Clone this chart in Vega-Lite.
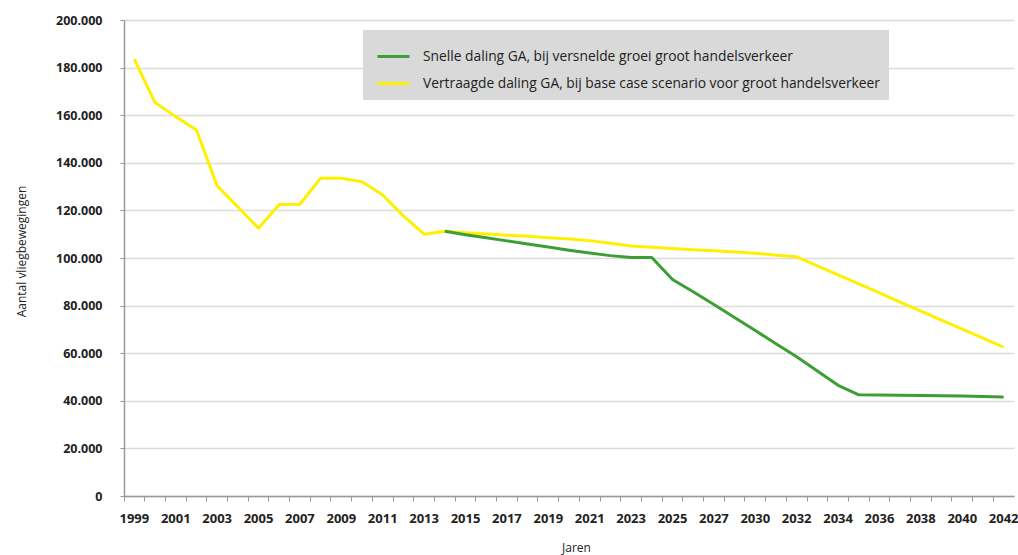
{
  "$schema": "https://vega.github.io/schema/vega-lite/v6.json",
  "width": 890,
  "height": 476,
  "autosize": {"type": "none"},
  "padding": {"left": 124, "top": 20, "right": 4, "bottom": 59},
  "background": "white",
  "config": {
    "view": {"stroke": null},
    "font": "Open Sans"
  },
  "data": {
    "values": [
      {"jaar": "1999", "scenario": "Vertraagde daling GA, bij base case scenario voor groot handelsverkeer", "waarde": 183500},
      {"jaar": "2000", "scenario": "Vertraagde daling GA, bij base case scenario voor groot handelsverkeer", "waarde": 165300},
      {"jaar": "2001", "scenario": "Vertraagde daling GA, bij base case scenario voor groot handelsverkeer", "waarde": 159400},
      {"jaar": "2002", "scenario": "Vertraagde daling GA, bij base case scenario voor groot handelsverkeer", "waarde": 153800},
      {"jaar": "2003", "scenario": "Vertraagde daling GA, bij base case scenario voor groot handelsverkeer", "waarde": 130300},
      {"jaar": "2004", "scenario": "Vertraagde daling GA, bij base case scenario voor groot handelsverkeer", "waarde": 121500},
      {"jaar": "2005", "scenario": "Vertraagde daling GA, bij base case scenario voor groot handelsverkeer", "waarde": 112500},
      {"jaar": "2006", "scenario": "Vertraagde daling GA, bij base case scenario voor groot handelsverkeer", "waarde": 122500},
      {"jaar": "2007", "scenario": "Vertraagde daling GA, bij base case scenario voor groot handelsverkeer", "waarde": 122600},
      {"jaar": "2008", "scenario": "Vertraagde daling GA, bij base case scenario voor groot handelsverkeer", "waarde": 133500},
      {"jaar": "2009", "scenario": "Vertraagde daling GA, bij base case scenario voor groot handelsverkeer", "waarde": 133500},
      {"jaar": "2010", "scenario": "Vertraagde daling GA, bij base case scenario voor groot handelsverkeer", "waarde": 132000},
      {"jaar": "2011", "scenario": "Vertraagde daling GA, bij base case scenario voor groot handelsverkeer", "waarde": 126500},
      {"jaar": "2012", "scenario": "Vertraagde daling GA, bij base case scenario voor groot handelsverkeer", "waarde": 117700},
      {"jaar": "2013", "scenario": "Vertraagde daling GA, bij base case scenario voor groot handelsverkeer", "waarde": 110000},
      {"jaar": "2014", "scenario": "Vertraagde daling GA, bij base case scenario voor groot handelsverkeer", "waarde": 111200},
      {"jaar": "2015", "scenario": "Vertraagde daling GA, bij base case scenario voor groot handelsverkeer", "waarde": 110600},
      {"jaar": "2016", "scenario": "Vertraagde daling GA, bij base case scenario voor groot handelsverkeer", "waarde": 110100},
      {"jaar": "2017", "scenario": "Vertraagde daling GA, bij base case scenario voor groot handelsverkeer", "waarde": 109600},
      {"jaar": "2018", "scenario": "Vertraagde daling GA, bij base case scenario voor groot handelsverkeer", "waarde": 109100},
      {"jaar": "2019", "scenario": "Vertraagde daling GA, bij base case scenario voor groot handelsverkeer", "waarde": 108500},
      {"jaar": "2020", "scenario": "Vertraagde daling GA, bij base case scenario voor groot handelsverkeer", "waarde": 108000},
      {"jaar": "2021", "scenario": "Vertraagde daling GA, bij base case scenario voor groot handelsverkeer", "waarde": 107300},
      {"jaar": "2022", "scenario": "Vertraagde daling GA, bij base case scenario voor groot handelsverkeer", "waarde": 106200},
      {"jaar": "2023", "scenario": "Vertraagde daling GA, bij base case scenario voor groot handelsverkeer", "waarde": 105000},
      {"jaar": "2024", "scenario": "Vertraagde daling GA, bij base case scenario voor groot handelsverkeer", "waarde": 104500},
      {"jaar": "2025", "scenario": "Vertraagde daling GA, bij base case scenario voor groot handelsverkeer", "waarde": 104000},
      {"jaar": "2026", "scenario": "Vertraagde daling GA, bij base case scenario voor groot handelsverkeer", "waarde": 103500},
      {"jaar": "2027", "scenario": "Vertraagde daling GA, bij base case scenario voor groot handelsverkeer", "waarde": 103000},
      {"jaar": "2028", "scenario": "Vertraagde daling GA, bij base case scenario voor groot handelsverkeer", "waarde": 102500},
      {"jaar": "2030", "scenario": "Vertraagde daling GA, bij base case scenario voor groot handelsverkeer", "waarde": 102000},
      {"jaar": "2031", "scenario": "Vertraagde daling GA, bij base case scenario voor groot handelsverkeer", "waarde": 101200},
      {"jaar": "2032", "scenario": "Vertraagde daling GA, bij base case scenario voor groot handelsverkeer", "waarde": 100500},
      {"jaar": "2033", "scenario": "Vertraagde daling GA, bij base case scenario voor groot handelsverkeer", "waarde": 96700},
      {"jaar": "2034", "scenario": "Vertraagde daling GA, bij base case scenario voor groot handelsverkeer", "waarde": 92900},
      {"jaar": "2035", "scenario": "Vertraagde daling GA, bij base case scenario voor groot handelsverkeer", "waarde": 89100},
      {"jaar": "2036", "scenario": "Vertraagde daling GA, bij base case scenario voor groot handelsverkeer", "waarde": 85300},
      {"jaar": "2037", "scenario": "Vertraagde daling GA, bij base case scenario voor groot handelsverkeer", "waarde": 81500},
      {"jaar": "2038", "scenario": "Vertraagde daling GA, bij base case scenario voor groot handelsverkeer", "waarde": 77700},
      {"jaar": "2039", "scenario": "Vertraagde daling GA, bij base case scenario voor groot handelsverkeer", "waarde": 73900},
      {"jaar": "2040", "scenario": "Vertraagde daling GA, bij base case scenario voor groot handelsverkeer", "waarde": 70100},
      {"jaar": "2041", "scenario": "Vertraagde daling GA, bij base case scenario voor groot handelsverkeer", "waarde": 66300},
      {"jaar": "2042", "scenario": "Vertraagde daling GA, bij base case scenario voor groot handelsverkeer", "waarde": 62500},
      {"jaar": "2014", "scenario": "Snelle daling GA, bij versnelde groei groot handelsverkeer", "waarde": 111200},
      {"jaar": "2015", "scenario": "Snelle daling GA, bij versnelde groei groot handelsverkeer", "waarde": 109800},
      {"jaar": "2016", "scenario": "Snelle daling GA, bij versnelde groei groot handelsverkeer", "waarde": 108500},
      {"jaar": "2017", "scenario": "Snelle daling GA, bij versnelde groei groot handelsverkeer", "waarde": 107200},
      {"jaar": "2018", "scenario": "Snelle daling GA, bij versnelde groei groot handelsverkeer", "waarde": 105900},
      {"jaar": "2019", "scenario": "Snelle daling GA, bij versnelde groei groot handelsverkeer", "waarde": 104600},
      {"jaar": "2020", "scenario": "Snelle daling GA, bij versnelde groei groot handelsverkeer", "waarde": 103300},
      {"jaar": "2021", "scenario": "Snelle daling GA, bij versnelde groei groot handelsverkeer", "waarde": 102100},
      {"jaar": "2022", "scenario": "Snelle daling GA, bij versnelde groei groot handelsverkeer", "waarde": 101000},
      {"jaar": "2023", "scenario": "Snelle daling GA, bij versnelde groei groot handelsverkeer", "waarde": 100200},
      {"jaar": "2024", "scenario": "Snelle daling GA, bij versnelde groei groot handelsverkeer", "waarde": 100200},
      {"jaar": "2025", "scenario": "Snelle daling GA, bij versnelde groei groot handelsverkeer", "waarde": 91000},
      {"jaar": "2026", "scenario": "Snelle daling GA, bij versnelde groei groot handelsverkeer", "waarde": 85800},
      {"jaar": "2027", "scenario": "Snelle daling GA, bij versnelde groei groot handelsverkeer", "waarde": 80500},
      {"jaar": "2028", "scenario": "Snelle daling GA, bij versnelde groei groot handelsverkeer", "waarde": 75000},
      {"jaar": "2030", "scenario": "Snelle daling GA, bij versnelde groei groot handelsverkeer", "waarde": 69500},
      {"jaar": "2031", "scenario": "Snelle daling GA, bij versnelde groei groot handelsverkeer", "waarde": 64000},
      {"jaar": "2032", "scenario": "Snelle daling GA, bij versnelde groei groot handelsverkeer", "waarde": 58500},
      {"jaar": "2033", "scenario": "Snelle daling GA, bij versnelde groei groot handelsverkeer", "waarde": 52500},
      {"jaar": "2034", "scenario": "Snelle daling GA, bij versnelde groei groot handelsverkeer", "waarde": 46500},
      {"jaar": "2035", "scenario": "Snelle daling GA, bij versnelde groei groot handelsverkeer", "waarde": 42500},
      {"jaar": "2036", "scenario": "Snelle daling GA, bij versnelde groei groot handelsverkeer", "waarde": 42400},
      {"jaar": "2037", "scenario": "Snelle daling GA, bij versnelde groei groot handelsverkeer", "waarde": 42300},
      {"jaar": "2038", "scenario": "Snelle daling GA, bij versnelde groei groot handelsverkeer", "waarde": 42200},
      {"jaar": "2039", "scenario": "Snelle daling GA, bij versnelde groei groot handelsverkeer", "waarde": 42100},
      {"jaar": "2040", "scenario": "Snelle daling GA, bij versnelde groei groot handelsverkeer", "waarde": 42000},
      {"jaar": "2041", "scenario": "Snelle daling GA, bij versnelde groei groot handelsverkeer", "waarde": 41800},
      {"jaar": "2042", "scenario": "Snelle daling GA, bij versnelde groei groot handelsverkeer", "waarde": 41600}
    ]
  },
  "mark": {"type": "line", "strokeWidth": 3, "strokeJoin": "round"},
  "encoding": {
    "x": {
      "field": "jaar",
      "type": "ordinal",
      "scale": {"type": "band", "paddingInner": 0, "paddingOuter": 0},
      "axis": {
        "title": "Jaren",
        "titleX": 452,
        "titleY": 46,
        "titleFont": "Open Sans",
        "titleFontSize": 12,
        "titleFontWeight": "normal",
        "titleColor": "#222",
        "bandPosition": 0,
        "labelAngle": 0,
        "labelExpr": "(toNumber(datum.value) <= 2027 && toNumber(datum.value) % 2 == 1) || (toNumber(datum.value) >= 2030 && toNumber(datum.value) % 2 == 0) ? datum.value : ''",
        "labelOverlap": false,
        "labelBound": false,
        "labelFlush": false,
        "labelFont": "Open Sans",
        "labelFontSize": 13,
        "labelFontWeight": "bold",
        "labelColor": "#222",
        "labelPadding": 11,
        "tickSize": 5,
        "tickColor": "#999",
        "domainColor": "#999",
        "domainWidth": 1.5,
        "grid": false
      }
    },
    "y": {
      "field": "waarde",
      "type": "quantitative",
      "scale": {"domain": [0, 200000], "nice": false},
      "axis": {
        "title": "Aantal vliegbewegingen",
        "titleX": -103,
        "titleY": 231,
        "titleAngle": -90,
        "titleBaseline": "middle",
        "titleAlign": "center",
        "titleFont": "Open Sans",
        "titleFontSize": 12,
        "titleFontWeight": "normal",
        "titleColor": "#222",
        "values": [0, 20000, 40000, 60000, 80000, 100000, 120000, 140000, 160000, 180000, 200000],
        "labelExpr": "replace(format(datum.value, ','), ',', '.')",
        "labelFont": "Open Sans",
        "labelFontSize": 12.5,
        "labelFontWeight": "bold",
        "labelColor": "#222",
        "labelPadding": 18,
        "tickSize": 4,
        "tickColor": "#999",
        "domainColor": "#999",
        "domainWidth": 1.5,
        "grid": true,
        "gridColor": "#dcdcdc",
        "gridWidth": 1.5
      }
    },
    "color": {
      "field": "scenario",
      "type": "nominal",
      "scale": {
        "domain": ["Snelle daling GA, bij versnelde groei groot handelsverkeer", "Vertraagde daling GA, bij base case scenario voor groot handelsverkeer"],
        "range": ["#3e9e36", "#fff000"]
      },
      "legend": {
        "title": null,
        "orient": "none",
        "legendX": 239,
        "legendY": 10,
        "fillColor": "#d9d9d9",
        "padding": 9,
        "symbolOffset": 4,
        "symbolType": "stroke",
        "symbolSize": 1024,
        "symbolStrokeWidth": 3,
        "labelOffset": 12,
        "labelFont": "Open Sans",
        "labelFontSize": 13.8,
        "labelColor": "#222",
        "rowPadding": 2,
        "labelLimit": 600
      }
    }
  }
}
